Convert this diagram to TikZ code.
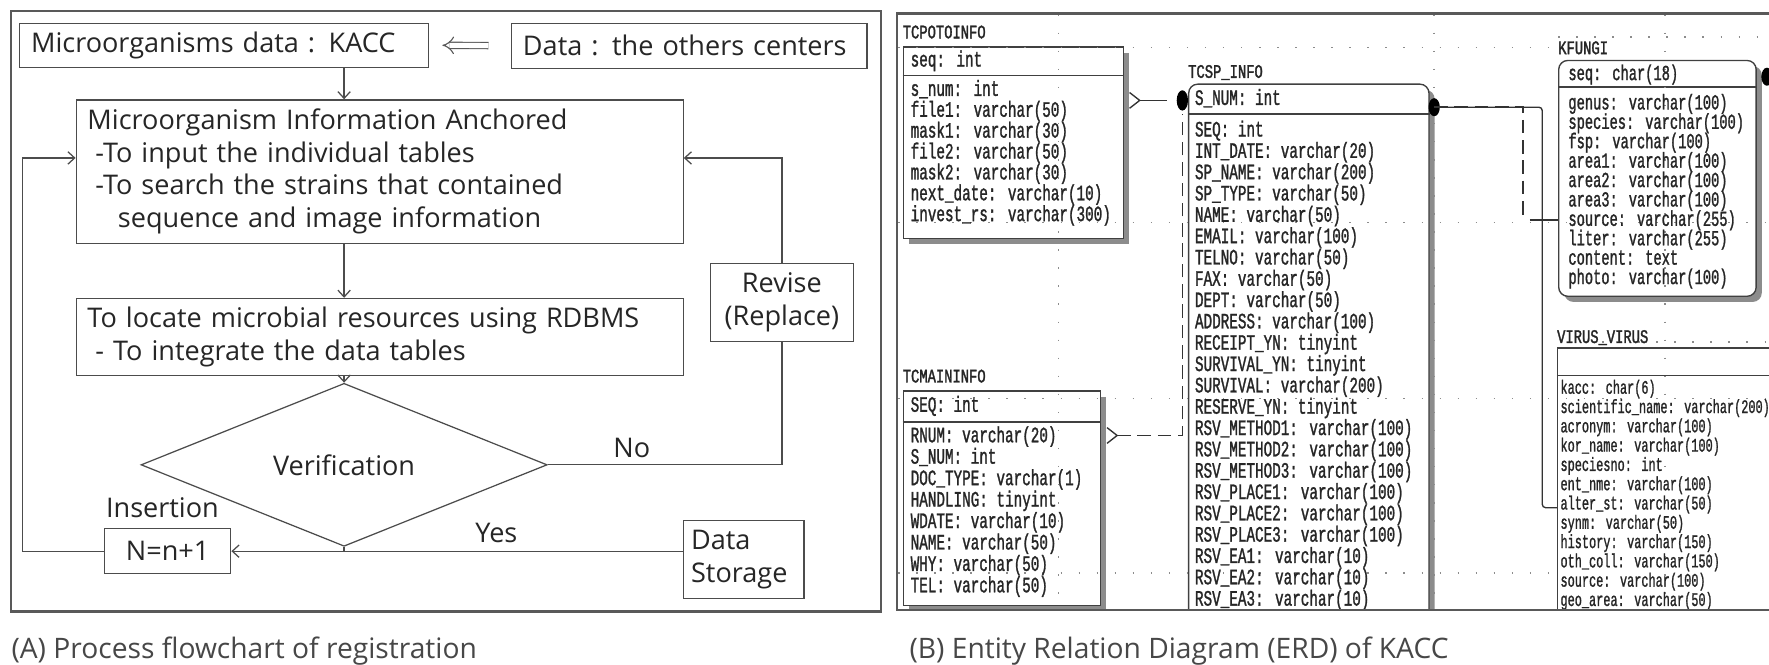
\documentclass[tikz,border=0pt]{standalone}
\usepackage{fontspec}
\setmainfont{Open Sans}
\newfontfamily\erdf[FakeStretch=0.65,FakeBold=1.2]{Liberation Mono}
\newfontfamily\erdk[FakeStretch=0.64,FakeBold=1.2]{Liberation Mono}
\newfontfamily\erdv[FakeStretch=0.62,FakeBold=1.1]{Liberation Mono}
\newfontfamily\erdt[FakeStretch=0.72,FakeBold=1.6]{Liberation Mono}
\usetikzlibrary{arrows.meta,shapes.geometric,calc,shadows}
\begin{document}
\begin{tikzpicture}[x=1pt,y=-1pt,
  fc/.style={draw=black!70, line width=1.1pt, font=\fontsize{24}{28.8}\selectfont, text=black!85, inner ysep=0pt, inner xsep=10pt, anchor=north west, align=left},
  arr/.style={draw=black!70, line width=1.1pt, -{Straight Barb[length=6pt,width=11pt]}},
  ln/.style={draw=black!70, line width=1.1pt},
  lbl/.style={font=\fontsize{24}{28}\selectfont, text=black!85, inner sep=0pt},
  dbl/.style={draw=black!65, double=white, double distance=4.5pt, line width=1pt, -{Implies}, shorten >=12pt, shorten <=20pt},
  panel/.style={draw=black!65, line width=2pt, anchor=north west, inner sep=0pt},
  captext/.style={font=\fontsize{25}{28}\selectfont, text=black!72, anchor=west, inner sep=0pt},
  tbl/.style={draw=black!75, line width=1.2pt, fill=white, anchor=north west, inner sep=0pt, drop shadow={shadow xshift=5pt, shadow yshift=-5pt, fill=black!45, opacity=1}},
  div/.style={draw=black!75, line width=1.2pt},
  fld/.style={font=\erdf\fontsize{19.5}{20}\selectfont, text=black!85, inner sep=0pt, anchor=base west},
  fldk/.style={font=\erdk\fontsize{19}{19}\selectfont, text=black!85, inner sep=0pt, anchor=base west},
  fldv/.style={font=\erdv\fontsize{17}{17}\selectfont, text=black!85, inner sep=0pt, anchor=base west},
  ttl/.style={font=\erdt\fontsize{17}{17}\selectfont, text=black!85, inner sep=0pt, anchor=base west},
  rel/.style={draw=black!80, line width=1.2pt},
  reld/.style={draw=black!80, line width=1.5pt, dash pattern=on 12pt off 6pt},
  grd/.style={draw=black!45, line width=1.3pt, dash pattern=on 1.3pt off 14.7pt}
]
\useasboundingbox (0,0) rectangle (1568,589);
\fill[white] (0,0) rectangle (1568,589);

% ---------------- (A) flowchart ----------------
\node[panel, minimum width=771pt, minimum height=532pt] (panelA) at (9,9) {};

\node[fc, text width=342pt, minimum height=39pt] (kacc) at (17,20) {Microorganisms data : KACC};
\node[fc, text width=295pt, minimum height=40pt] (other) at (453,20) {Data : the others centers};
\node[fc, text width=518pt, minimum height=127pt] (anch) at (67,88) {Microorganism Information Anchored\\
\hspace*{7pt}-To input the individual tables\\
\hspace*{7pt}-To search the strains that contained\\
\hspace*{27pt}sequence and image information};
\node[fc, text width=518pt, minimum height=68pt] (rdb) at (67,264) {To locate microbial resources using RDBMS\\
\hspace*{7pt}- To integrate the data tables};
\node[diamond, draw=black!70, line width=1.1pt, minimum width=360pt, minimum height=83pt, inner sep=0pt, font=\fontsize{24}{28}\selectfont, text=black!85] (dia) at (305,412) {Verification};
\node[fc, text width=107pt, minimum height=69pt, align=center] (rev) at (629,233) {Revise\\(Replace)};
\node[fc, text width=92pt, minimum height=40pt, align=center] (nn) at (92,468) {N=n+1};
\node[fc, inner xsep=7pt, text width=93pt, minimum height=69pt] (ds) at (605,461) {Data\\Storage};

\node[lbl] (noL) at (560,397) {No};
\node[lbl] (yesL) at (440,472) {Yes};
\node[lbl] (insL) at (144,450) {Insertion};

\draw[dbl] (other.west) -- (kacc.east);
\draw[arr] (kacc.south -| dia) -- (anch.north -| dia);
\draw[arr] (anch.south -| dia) -- (rdb.north -| dia);
\draw[arr] (rdb.south -| dia) -- (dia.north);
\draw[ln] (dia.east) -- (dia.east -| rev.south) -- (rev.south);
\draw[arr] (rev.north) |- ($(anch.north east)+(0,52)$);
\draw[ln] (dia.south) -- (dia.south |- nn.east);
\draw[arr] (ds.west |- nn.east) -- (nn.east);
\draw[arr] (nn.west) -- ++(-72,0) |- ($(anch.north west)+(0,52)$);

\node[captext] (capA) at (10,577) {(A) Process flowchart of registration};
\node[captext] (capB) at (806,577) {(B) Entity Relation Diagram (ERD) of KACC};

% ---------------- (B) ERD ----------------
\begin{scope}
\clip (796,13) rectangle (1568,540);

% tables
\node[tbl, minimum width=195pt, minimum height=170pt] (pot) at (800,41) {};
\node[tbl, rounded corners=8pt, minimum width=213pt, minimum height=490pt] (sp) at (1053,74) {};
\node[tbl, minimum width=175pt, minimum height=190pt] (mi) at (800,346) {};
\node[tbl, rounded corners=8pt, minimum width=175pt, minimum height=209pt] (kf) at (1381,53) {};
\node[tbl, minimum width=220pt, minimum height=260pt] (vv) at (1380,308) {};

\draw[div] ($(pot.north west)+(0,26)$) -- ($(pot.north east)+(0,26)$);
\draw[div] ($(sp.north west)+(0,27)$) -- ($(sp.north east)+(0,27)$);
\draw[div] ($(mi.north west)+(0,28)$) -- ($(mi.north east)+(0,28)$);
\draw[div] ($(kf.north west)+(0,24)$) -- ($(kf.north east)+(0,24)$);
\draw[div] ($(vv.north west)+(0,25)$) -- ($(vv.north east)+(0,25)$);

% grid
\draw[grd] (796,42) -- (1381,42);
\draw[grd] (1381,33) -- (1568,33);
\draw[grd] (796,197) -- (1568,197);
\draw[grd] (796,353) -- (1568,353);
\draw[grd] (796,508) -- (1380,508);
\draw[grd] (1420,303) -- (1568,303);
\draw[grd] (938,13) -- (938,540);
\draw[grd] (1271,13) -- (1271,540);
\draw[grd] (1476,13) -- (1476,540);

% titles
\node[ttl] (potT) at (800,34) {TCPOTOINFO};
\node[ttl] (spT) at (1053,69) {TCSP\_INFO};
\node[ttl] (miT) at (800,339) {TCMAININFO};
\node[ttl] (kfT) at (1381,48) {KFUNGI};
\node[ttl] (vvT) at (1380,304) {VIRUS\_VIRUS};

% headers
\node[fld] (potH) at (807,59) {seq: int};
\node[fld] (spH) at (1059,93) {S\_NUM: int};
\node[fld] (miH) at (807,365) {SEQ: int};
\node[fldk] (kfH) at (1390,71) {seq: char(18)};

% fields
\foreach \t [count=\i from 0] in {s\_num: int, file1: varchar(50), mask1: varchar(30), file2: varchar(50), mask2: varchar(30), next\_date: varchar(10), invest\_rs: varchar(300)}
  \node[fld] (pot-\i) at (807,85+\i*18.5) {\t};
\foreach \t [count=\i from 0] in {SEQ: int, INT\_DATE: varchar(20), SP\_NAME: varchar(200), SP\_TYPE: varchar(50), NAME: varchar(50), EMAIL: varchar(100), TELNO: varchar(50), FAX: varchar(50), DEPT: varchar(50), ADDRESS: varchar(100), RECEIPT\_YN: tinyint, SURVIVAL\_YN: tinyint, SURVIVAL: varchar(200), RESERVE\_YN: tinyint, RSV\_METHOD1: varchar(100), RSV\_METHOD2: varchar(100), RSV\_METHOD3: varchar(100), RSV\_PLACE1: varchar(100), RSV\_PLACE2: varchar(100), RSV\_PLACE3: varchar(100), RSV\_EA1: varchar(10), RSV\_EA2: varchar(10), RSV\_EA3: varchar(10)}
  \node[fld] (sp-\i) at (1059,121+\i*18.9) {\t};
\foreach \t [count=\i from 0] in {RNUM: varchar(20), S\_NUM: int, DOC\_TYPE: varchar(1), HANDLING: tinyint, WDATE: varchar(10), NAME: varchar(50), WHY: varchar(50), TEL: varchar(50)}
  \node[fld] (mi-\i) at (807,392+\i*19) {\t};
\foreach \t [count=\i from 0] in {genus: varchar(100), species: varchar(100), fsp: varchar(100), area1: varchar(100), area2: varchar(100), area3: varchar(100), source: varchar(255), liter: varchar(255), content: text, photo: varchar(100)}
  \node[fldk] (kf-\i) at (1390,97+\i*17.2) {\t};
\foreach \t [count=\i from 0] in {kacc: char(6), scientific\_name: varchar(200), acronym: varchar(100), kor\_name: varchar(100), speciesno: int, ent\_nme: varchar(100), alter\_st: varchar(50), synm: varchar(50), history: varchar(150), oth\_coll: varchar(150), source: varchar(100), geo\_area: varchar(50)}
  \node[fldv] (vv-\i) at (1383,349+\i*17.1) {\t};

% relations
\coordinate (pA) at ($(pot.north east)+(14,48)$);
\coordinate (sL) at ($(sp.north west)+(-5,15)$);
\coordinate (mA) at ($(mi.north east)+(14,40)$);
\coordinate (sR) at ($(sp.north east)+(4,21)$);
\draw[rel] ($(pot.north east)+(5,41)$) -- (pA) -- ($(pot.north east)+(5,55)$);
\draw[rel] (pA) -- ($(sL)+(-14,0)$);
\fill[black] (sL) ellipse (5 and 9);
\draw[rel] ($(mi.north east)+(5,33)$) -- (mA) -- ($(mi.north east)+(5,47)$);
\draw[reld] (mA) -| ($(sL)+(0,12)$);
\fill[black] (sR) ellipse (5 and 8);
\draw[rel, rounded corners=3pt] (sR) -| ($(vv.north west)+(-13,142)$) -- ($(vv.north west)+(0,142)$);
\draw[reld] (sR) -| ($(kf.north west)+(-31,139)$);
\draw[rel] ($(kf.north west)+(-25,142)$) -- ($(kf.north west)+(0,142)$);
\fill[black] ($(kf.north east)+(9,15)$) ellipse (5 and 8);
\end{scope}
\draw[black!65, line width=2pt] (1575,12) -- (795,12) -- (795,541) -- (1575,541);
\end{tikzpicture}
\end{document}
